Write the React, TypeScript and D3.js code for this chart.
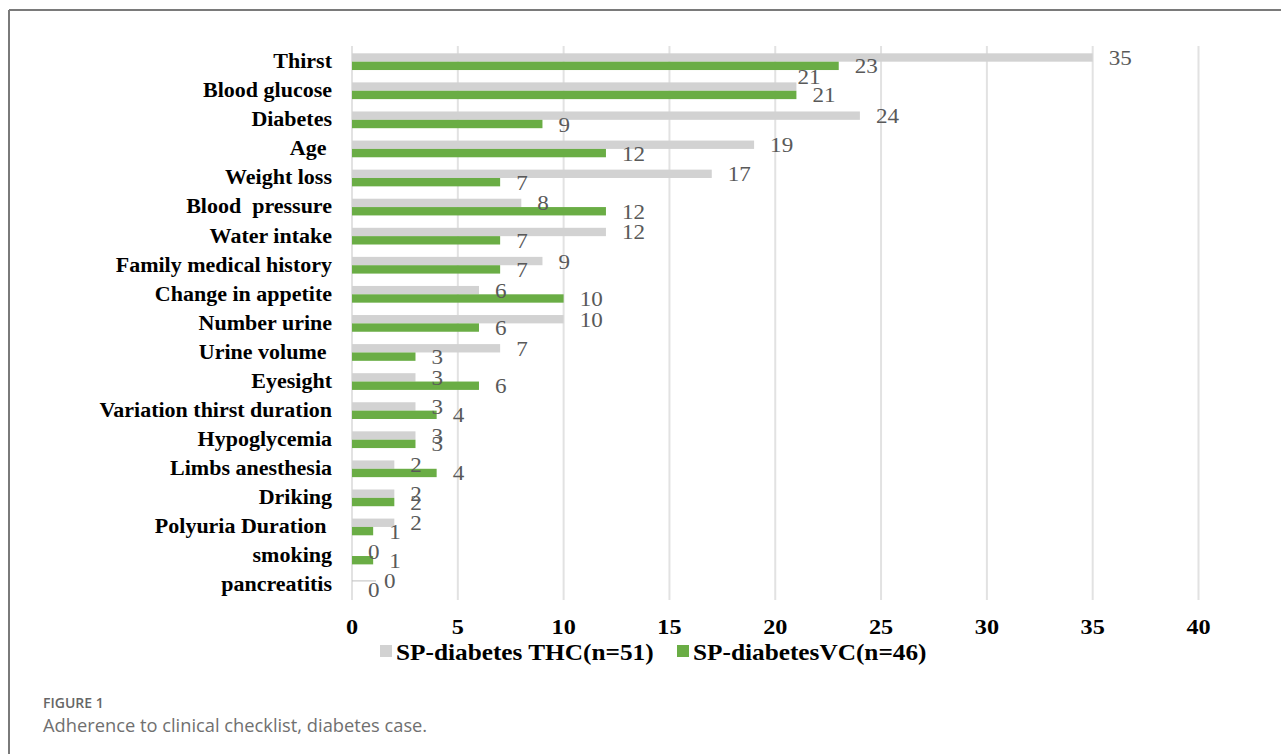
import React from 'react';
import * as d3 from 'd3';

// chart data
const categories = [
  'Thirst', 'Blood glucose', 'Diabetes', 'Age ', 'Weight loss', 'Blood  pressure',
  'Water intake', 'Family medical history', 'Change in appetite', 'Number urine',
  'Urine volume ', 'Eyesight', 'Variation thirst duration', 'Hypoglycemia',
  'Limbs anesthesia', 'Driking', 'Polyuria Duration ', 'smoking', 'pancreatitis',
];
const thcValues = [35, 21, 24, 19, 17, 8, 12, 9, 6, 10, 7, 3, 3, 3, 2, 2, 2, 0, 0];
const vcValues = [23, 21, 9, 12, 7, 12, 7, 7, 10, 6, 3, 6, 4, 3, 4, 2, 1, 1, 0];
const seriesNames = ['SP-diabetes THC(n=51)', 'SP-diabetesVC(n=46)'];
const xTicks = [0, 5, 10, 15, 20, 25, 30, 35, 40];

const WIDTH = 1281;
const HEIGHT = 754;
const GRAY = '#d2d2d2';
const GREEN = '#6aad45';
const SERIF = '"Liberation Serif", "Times New Roman", serif';
const SANS = '"Open Sans", Lato, sans-serif';
const STRETCH = 1.1; // the source image is a bit wider than tall

// Excel moved two labels to avoid overlaps
const labelNudge: Record<string, { dx: number; dy: number; leader?: boolean }> = {
  'thc-1': { dx: -15, dy: -10.5 },
  'thc-18': { dx: 16, dy: 0, leader: true },
};

const SText: React.FC<{
  x: number; y: number; size: number; anchor?: string; weight?: string; fill?: string; children: React.ReactNode;
}> = ({ x, y, size, anchor = 'start', weight = 'normal', fill = '#000', children }) => (
  <text
    transform={`translate(${x},${y}) scale(${STRETCH},1)`}
    textAnchor={anchor}
    fontFamily={SERIF}
    fontSize={size}
    fontWeight={weight}
    fill={fill}
    style={{ whiteSpace: 'pre' }}
  >
    {children}
  </text>
);

const App: React.FC = () => {
  const x = d3.scaleLinear().domain([0, 40]).range([352, 1198.5]);
  const y = d3.scaleBand<string>().domain(categories.map((c, i) => String(i))).range([47.5, 600]).padding(0);
  const bw = y.bandwidth();
  const sub = d3.scaleBand<string>().domain(['thc', 'vc']).range([0.2 * bw, 0.775 * bw]).padding(0);
  const barH = sub.bandwidth();

  const series = [
    { key: 'thc', values: thcValues, color: GRAY },
    { key: 'vc', values: vcValues, color: GREEN },
  ];

  return (
    <svg
      width={WIDTH}
      height={HEIGHT}
      style={{ position: 'absolute', left: 0, top: 0, background: '#fff' }}
    >
      {/* frame */}
      <line x1={9} y1={10} x2={WIDTH} y2={10} stroke="#7a7a7a" strokeWidth={2} />
      <line x1={9} y1={10} x2={9} y2={HEIGHT} stroke="#7a7a7a" strokeWidth={2} />

      {/* gridlines */}
      {xTicks.map(t => (
        <line key={t} x1={x(t)} x2={x(t)} y1={46} y2={600} stroke="#e2e2e2" strokeWidth={2} />
      ))}

      {/* bars */}
      {series.map(s =>
        s.values.map((v, i) => {
          const y0 = (y(String(i)) ?? 0) + (sub(s.key) ?? 0);
          return (
            <rect key={s.key + i} x={x(0)} y={y0} width={x(v) - x(0)} height={barH} fill={s.color} />
          );
        })
      )}

      {/* value labels */}
      {series.map(s =>
        s.values.map((v, i) => {
          const cy = (y(String(i)) ?? 0) + (sub(s.key) ?? 0) + barH / 2;
          const n = labelNudge[`${s.key}-${i}`] || { dx: 0, dy: 0 };
          const lx = x(v) + 16 + n.dx;
          return (
            <g key={'l' + s.key + i}>
              {n.leader && (
                <line x1={x(v)} x2={lx - 8} y1={cy} y2={cy} stroke="#bfbfbf" strokeWidth={1} />
              )}
              <SText x={lx} y={cy + n.dy + 7.5} size={21} fill="#595959">{v}</SText>
            </g>
          );
        })
      )}

      {/* category labels */}
      {categories.map((c, i) => (
        <SText key={c} x={332} y={(y(String(i)) ?? 0) + bw / 2 + 6} size={20} anchor="end" weight="bold">
          {c}
        </SText>
      ))}

      {/* x tick labels */}
      {xTicks.map(t => (
        <SText key={'t' + t} x={x(t)} y={634} size={22} anchor="middle" weight="bold">
          {t}
        </SText>
      ))}

      {/* legend */}
      <rect x={380} y={645} width={12} height={12} fill={GRAY} />
      <SText x={396} y={660} size={23} weight="bold">{seriesNames[0]}</SText>
      <rect x={677} y={645} width={12} height={12} fill={GREEN} />
      <SText x={693} y={660} size={23} weight="bold">{seriesNames[1]}</SText>

      {/* caption */}
      <text x={43} y={708} fontFamily={SANS} fontSize={14} fontWeight={600} fill="#666">
        FIGURE 1
      </text>
      <text x={43} y={732} fontFamily={SANS} fontSize={18.3} fill="#707070">
        Adherence to clinical checklist, diabetes case.
      </text>
    </svg>
  );
};

export default App;
